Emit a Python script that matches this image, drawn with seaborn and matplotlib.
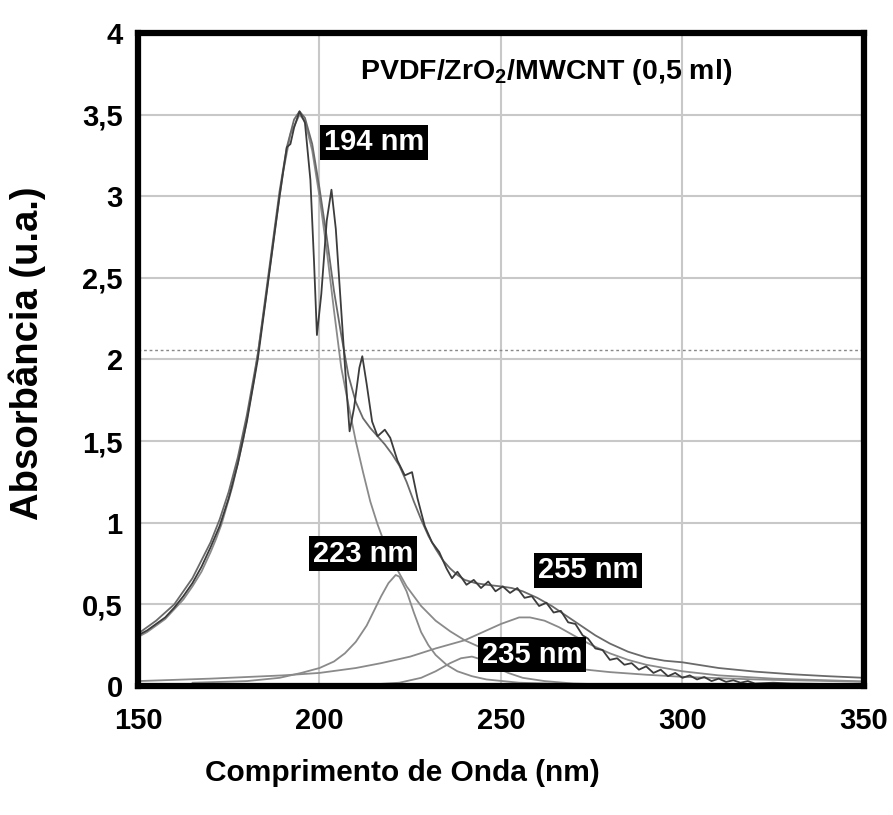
import matplotlib
matplotlib.use("Agg")
import matplotlib.pyplot as plt
import seaborn as sns

# ---------------- data ----------------
title_text = "PVDF/ZrO$_{\\mathregular{2}}$/MWCNT (0,5 ml)"
x_label = "Comprimento de Onda (nm)"
y_label = "Absorbância (u.a.)"
x_ticks = [150, 200, 250, 300, 350]
y_ticks = [0, 0.5, 1, 1.5, 2, 2.5, 3, 3.5, 4]
y_tick_labels = ["0", "0,5", "1", "1,5", "2", "2,5", "3", "3,5", "4"]
ref_line_y = 2.06

# measured spectrum
meas_x = [150, 152.5, 155, 157.5, 160, 162.5, 165, 167.5, 170, 172.5, 175, 177.5, 180, 183, 186,
          189, 191, 192, 193, 194.5, 196,
          197.5, 198.5, 199.3, 200.5, 202, 203.3, 204.5, 206, 207.5, 208.3, 209.5, 211,
          211.8, 213, 214.5, 216, 218, 219.5, 221.5, 223.5, 225.5, 227, 229, 231, 233,
          235, 236.5, 238, 240.5, 242.5, 244.5, 246.5, 248.5, 250.5, 252.5, 254.5, 256.5,
          258.5, 260.5, 262.5, 264.5, 266.5, 268.5, 270.5, 272.5, 274, 276, 278, 280, 282,
          284, 286, 288, 290, 292, 294, 296, 298, 300, 302, 304, 306, 308, 310, 312, 314,
          316, 318, 320, 325, 330, 340, 350]
meas_y = [0.31, 0.34, 0.38, 0.42, 0.48, 0.55, 0.63, 0.73, 0.85, 0.98, 1.15, 1.36, 1.62, 2.00, 2.50,
          3.00, 3.30, 3.32, 3.42, 3.52, 3.45,
          3.10, 2.60, 2.15, 2.40, 2.85, 3.04, 2.80, 2.30, 1.80, 1.56, 1.70, 1.95,
          2.02, 1.85, 1.62, 1.53, 1.57, 1.52, 1.38, 1.29, 1.31, 1.15, 0.98, 0.88, 0.82,
          0.72, 0.66, 0.70, 0.62, 0.65, 0.60, 0.64, 0.58, 0.61, 0.57, 0.60, 0.54,
          0.55, 0.49, 0.51, 0.45, 0.46, 0.39, 0.38, 0.31, 0.29, 0.23, 0.22, 0.16, 0.17,
          0.13, 0.14, 0.10, 0.12, 0.08, 0.10, 0.06, 0.08, 0.05, 0.065, 0.04, 0.055, 0.03, 0.045, 0.025, 0.035,
          0.02, 0.03, 0.015, 0.02, 0.015, 0.012, 0.01]

# cumulative fit
fit_x = [150, 155, 160, 165, 170, 172.5, 175, 177.5, 180, 183, 186, 189, 191, 193, 194.5, 196, 198,
         200, 202, 204,
         206, 208, 210, 212, 214, 216, 218, 220, 222, 224, 226, 228, 230, 232, 234, 236,
         238, 240, 243, 246, 250, 253, 256, 260, 264, 268, 272, 276, 280, 285, 290, 295,
         300, 310, 320, 330, 340, 350]
fit_y = [0.32, 0.40, 0.50, 0.66, 0.88, 1.02, 1.19, 1.40, 1.66, 2.03, 2.53, 3.03, 3.30, 3.47, 3.52,
         3.48, 3.32, 3.05, 2.75, 2.42,
         2.15, 1.90, 1.74, 1.64, 1.58, 1.53, 1.48, 1.42, 1.35, 1.25, 1.13, 1.02, 0.92, 0.84, 0.77, 0.72,
         0.68, 0.65, 0.63, 0.62, 0.61, 0.60, 0.58, 0.54, 0.49, 0.43, 0.37, 0.31, 0.26, 0.21, 0.175, 0.155,
         0.145, 0.11, 0.088, 0.072, 0.06, 0.05]

# component peaks
p194_x = [150, 152.5, 155, 157.5, 160, 162.5, 165, 167.5, 170, 171.5, 173, 176, 179, 182, 185,
          188, 190, 192, 194.5, 196, 198,
          200, 202, 204, 206, 208, 210, 212, 214, 216, 218, 220, 224, 228, 232, 236, 240,
          245, 250, 260, 270, 280, 290, 300, 320, 350]
p194_y = [0.30, 0.33, 0.37, 0.41, 0.47, 0.53, 0.61, 0.70, 0.82, 0.90, 0.99, 1.22, 1.51, 1.88, 2.34,
          2.84, 3.15, 3.38, 3.50, 3.46, 3.28,
          3.00, 2.67, 2.30, 1.95, 1.72, 1.50, 1.31, 1.13, 0.99, 0.87, 0.77, 0.61, 0.49, 0.40, 0.335, 0.28,
          0.23, 0.196, 0.143, 0.108, 0.085, 0.069, 0.056, 0.040, 0.026]

p223_x = [165, 180, 189, 195, 200, 204, 207, 210, 213, 215, 217, 219, 221, 222, 224, 226,
          228, 230, 232, 235, 238, 242, 246, 255, 270, 300, 350]
p223_y = [0.02, 0.03, 0.05, 0.08, 0.11, 0.15, 0.20, 0.27, 0.37, 0.46, 0.55, 0.63, 0.68, 0.67, 0.58, 0.45,
          0.33, 0.25, 0.19, 0.13, 0.09, 0.06, 0.04, 0.02, 0.01, 0.005, 0.002]

p235_x = [205, 215, 222, 228, 232, 236, 239, 242, 245, 248, 252, 256, 262, 270, 285, 300]
p235_y = [0.005, 0.01, 0.02, 0.05, 0.09, 0.14, 0.17, 0.18, 0.16, 0.12, 0.08, 0.05, 0.03, 0.015, 0.006, 0.003]

p255_x = [150, 170, 190, 200, 210, 217, 225, 232, 240, 245, 250, 255, 258, 262, 266, 270,
          275, 280, 285, 290, 300, 310, 325, 350]
p255_y = [0.03, 0.045, 0.065, 0.08, 0.11, 0.14, 0.18, 0.23, 0.28, 0.33, 0.38, 0.42, 0.42, 0.40, 0.36, 0.31,
          0.25, 0.20, 0.16, 0.13, 0.09, 0.065, 0.045, 0.028]

peak_labels = ["194 nm", "223 nm", "235 nm", "255 nm"]
label_x = [215.0, 212.0, 258.5, 274.0]
label_y = [3.33, 0.81, 0.19, 0.71]

# ---------------- plotting ----------------
sns.set_style("white")
plt.rcParams["font.family"] = ["Liberation Sans", "DejaVu Sans"]
plt.rcParams["mathtext.fontset"] = "custom"
plt.rcParams["mathtext.rm"] = "Liberation Sans"
plt.rcParams["text.color"] = "black"
plt.rcParams["axes.labelcolor"] = "black"
plt.rcParams["xtick.color"] = "black"
plt.rcParams["ytick.color"] = "black"

fig = plt.figure(figsize=(8.93, 8.15), dpi=100)
ax = fig.add_axes([0.1545, 0.1583, 0.813, 0.8012])

comp_color = "#8a8a8a"
sns.lineplot(x=p194_x, y=p194_y, ax=ax, color=comp_color, lw=1.3, estimator=None)
sns.lineplot(x=p223_x, y=p223_y, ax=ax, color=comp_color, lw=1.3, estimator=None)
sns.lineplot(x=p235_x, y=p235_y, ax=ax, color=comp_color, lw=1.3, estimator=None)
sns.lineplot(x=p255_x, y=p255_y, ax=ax, color=comp_color, lw=1.3, estimator=None)
sns.lineplot(x=fit_x, y=fit_y, ax=ax, color="#6a6a6a", lw=1.3, estimator=None)
sns.lineplot(x=meas_x, y=meas_y, ax=ax, color="#3c3c3c", lw=1.3, estimator=None)

ax.axhline(ref_line_y, color="#888888", lw=1.0, ls=(0, (2, 2)), zorder=1)

ax.set_xlim(150, 350)
ax.set_ylim(0, 4)
ax.set_xticks(x_ticks)
ax.set_yticks(y_ticks)
ax.set_yticklabels(y_tick_labels)
ax.grid(True, color="#c8c8c8", lw=1.5)
ax.set_axisbelow(True)

for s in ax.spines.values():
    s.set_visible(True)
    s.set_color("black")
    s.set_linewidth(4.5)

ax.tick_params(axis="both", which="major", direction="out", width=3, color="black",
               labelcolor="black", labelsize=21, pad=4)
ax.tick_params(axis="x", length=11)
ax.tick_params(axis="y", length=7)
for lab in ax.get_xticklabels() + ax.get_yticklabels():
    lab.set_fontweight("bold")

ax.set_xlabel(x_label, fontsize=21.5, fontweight="bold", color="black")
ax.xaxis.set_label_coords(0.364, -0.112)
ax.set_ylabel(y_label, fontsize=27.5, fontweight="bold", color="black")
ax.yaxis.set_label_coords(-0.127, 0.51)

ax.text(262.5, 3.76, title_text, fontsize=20.5, fontweight="bold", ha="center", va="center",
        color="black")

for t, lx, ly in zip(peak_labels, label_x, label_y):
    ax.text(lx, ly, t, fontsize=21, fontweight="bold", color="white", ha="center", va="center",
            bbox=dict(facecolor="black", edgecolor="none", boxstyle="square,pad=0.12"), zorder=5)

fig.savefig("out.png", dpi=100)
